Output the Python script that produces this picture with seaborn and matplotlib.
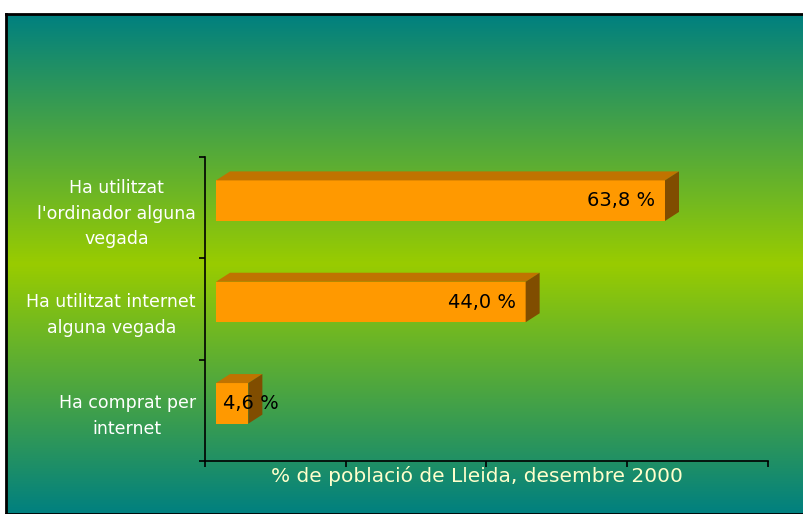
import numpy as np
import pandas as pd
import seaborn as sns
import matplotlib.pyplot as plt
from matplotlib.patches import Polygon

# data
categories = ["Ha utilitzat\nl'ordinador alguna\nvegada",
              "Ha utilitzat internet\nalguna vegada",
              "Ha comprat per\ninternet"]
values = [63.8, 44.0, 4.6]
value_labels = ["63,8 %", "44,0 %", "4,6 %"]
x_ticks = [0, 20, 40, 60, 80]
x_title = "% de població de Lleida, desembre 2000"

df = pd.DataFrame({"cat": categories, "val": values})

sns.set_style("white")
plt.rcParams["font.family"] = ["DejaVu Sans"]

W, H = 804, 514
fig = plt.figure(figsize=(W / 100, H / 100), dpi=100)
fig.patch.set_facecolor("white")

# chart area with the teal - green - teal gradient
bg = fig.add_axes([6 / W, 0, 798 / W, 500 / H], zorder=0)
teal = np.array([0, 128, 128]) / 255
green = np.array([153, 204, 0]) / 255
t = np.abs(np.linspace(-1, 1, 500))[:, None]
grad = green * (1 - t) + teal * t
bg.imshow(grad[:, None, :], aspect="auto", extent=[0, 1, 0, 1])
bg.set_xticks([])
bg.set_yticks([])
for s in bg.spines.values():
    s.set_color("black")
    s.set_linewidth(2)

# plot area
ax = fig.add_axes([205 / W, 53 / H, 563 / W, 304 / H], zorder=1)
ax.patch.set_alpha(0)
sns.barplot(data=df, x="val", y="cat", orient="h", color="#FF9900",
            saturation=1, width=0.4, ax=ax)
ax.set_xlim(0, 80)
ax.set_ylim(2.5, -0.5)

# pixel -> data conversions for the 3D look
ux = 80 / 563
uy = 3 / 304
shift_x, shift_y = 11 * ux, -7 * uy
dx, dy = 14 * ux, -9 * uy

for p, v, lab in zip(ax.patches, values, value_labels):
    p.set_x(p.get_x() + shift_x)
    p.set_y(p.get_y() + shift_y)
    p.set_edgecolor("none")
    fx = p.get_x()
    fr = fx + p.get_width()
    ft = p.get_y()
    fb = ft + p.get_height()
    ax.add_patch(Polygon([(fx, ft), (fr, ft), (fr + dx, ft + dy), (fx + dx, ft + dy)],
                         closed=True, facecolor="#C07300", edgecolor="none", zorder=2))
    ax.add_patch(Polygon([(fr, ft), (fr + dx, ft + dy), (fr + dx, fb + dy), (fr, fb)],
                         closed=True, facecolor="#804D00", edgecolor="none", zorder=2))
    if v < 10:
        ax.text(fx + 7 * ux, (ft + fb) / 2, lab, ha="left", va="center",
                fontsize=14, color="black", zorder=5)
    else:
        ax.text(fr - 10 * ux, (ft + fb) / 2, lab, ha="right", va="center",
                fontsize=14, color="black", zorder=5)

# axes
sns.despine(ax=ax, top=True, right=True)
for side in ["left", "bottom"]:
    ax.spines[side].set_color("black")
    ax.spines[side].set_linewidth(1.2)

ax.set_xticks(x_ticks, [""] * len(x_ticks))
ax.set_yticks([-0.5, 0.5, 1.5, 2.5], [""] * 4)
ax.set_yticks([0, 1, 2], categories, minor=True)
ax.tick_params(axis="both", which="major", direction="out", length=4,
               width=1.2, color="black", left=True, bottom=True)
ax.tick_params(axis="y", which="minor", length=0, pad=6.5,
               labelsize=12.5, labelcolor="white")
for lbl in ax.get_yticklabels(minor=True):
    lbl.set_multialignment("center")
    lbl.set_linespacing(1.55)

ax.set_ylabel("")
ax.set_xlabel(x_title, fontsize=14.5, color="#FFFFCC")
ax.xaxis.set_label_coords(0.483, -21 / 304)
ax.xaxis.label.set_va("baseline")

fig.savefig("out.png", dpi=100)
